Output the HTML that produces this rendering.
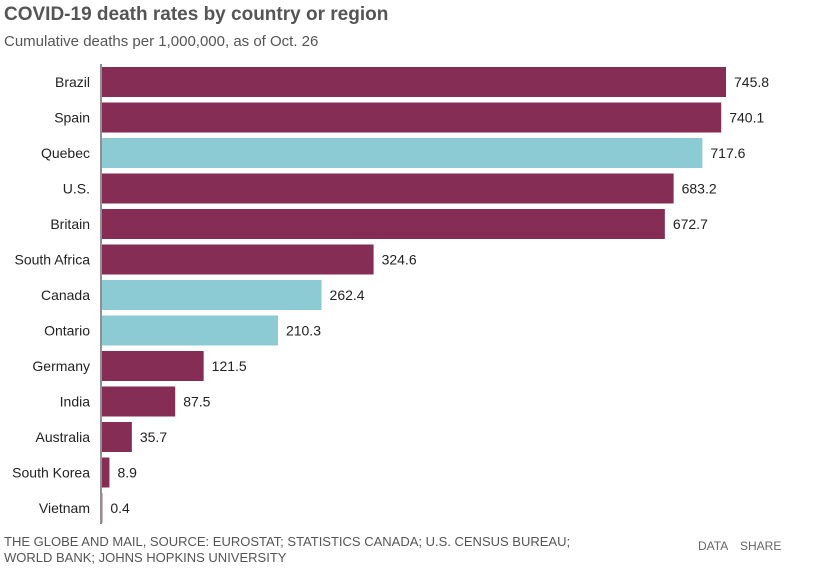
<!DOCTYPE html>
<html><head><meta charset="utf-8"><style>
body{margin:0;width:825px;height:574px;background:#fff;font-family:"Liberation Sans",sans-serif;overflow:hidden;position:relative}
.t{position:absolute;left:4px;top:4px;font-size:19px;font-weight:bold;color:#555}
.s{position:absolute;left:4px;top:33px;font-size:15px;color:#555}
.f{position:absolute;left:4px;top:534px;font-size:13px;color:#555;line-height:16px}
.l{position:absolute;top:539px;font-size:12px;color:#666}
</style></head><body>
<div class="t">COVID-19 death rates by country or region</div>
<div class="s">Cumulative deaths per 1,000,000, as of Oct. 26</div>
<svg id="c" width="825" height="574" style="position:absolute;left:0;top:0"></svg>
<div class="f">THE GLOBE AND MAIL, SOURCE: EUROSTAT; STATISTICS CANADA; U.S. CENSUS BUREAU;<br>WORLD BANK; JOHNS HOPKINS UNIVERSITY</div>
<div class="l" style="left:698px">DATA</div>
<div class="l" style="left:740px">SHARE</div>
<script>
const categories=["Brazil","Spain","Quebec","U.S.","Britain","South Africa","Canada","Ontario","Germany","India","Australia","South Korea","Vietnam"];
const values=[745.8,740.1,717.6,683.2,672.7,324.6,262.4,210.3,121.5,87.5,35.7,8.9,0.4];
const highlighted=["Quebec","Canada","Ontario"];
const svg=document.getElementById('c');const NS='http://www.w3.org/2000/svg';
const x0=102,kx=624/745.8;const X=v=>x0+v*kx;
const Y=i=>67+i*35.5;const bh=30;
function mk(t,a){const e=document.createElementNS(NS,t);for(const k in a)e.setAttribute(k,a[k]);svg.appendChild(e);return e;}
categories.forEach((c,i)=>{
 const r=mk('rect',{x:x0,y:Y(i),width:Math.max(0,X(values[i])-x0),height:bh,fill:highlighted.includes(c)?'#8ccbd3':'#862d55'});
 
 
 const l=mk('text',{x:90,y:Y(i)+bh/2+5,'text-anchor':'end','font-size':14,fill:'#222','font-family':'Liberation Sans'});l.textContent=c;
 
 
 const v=mk('text',{x:X(values[i])+8,y:Y(i)+bh/2+5,'font-size':14,fill:'#222','font-family':'Liberation Sans'});v.textContent=values[i].toFixed(1);
 
 
});
const ax=mk('line',{x1:101,x2:101,y1:64,y2:524,stroke:'#222','stroke-width':1});


</script>
</body></html>
